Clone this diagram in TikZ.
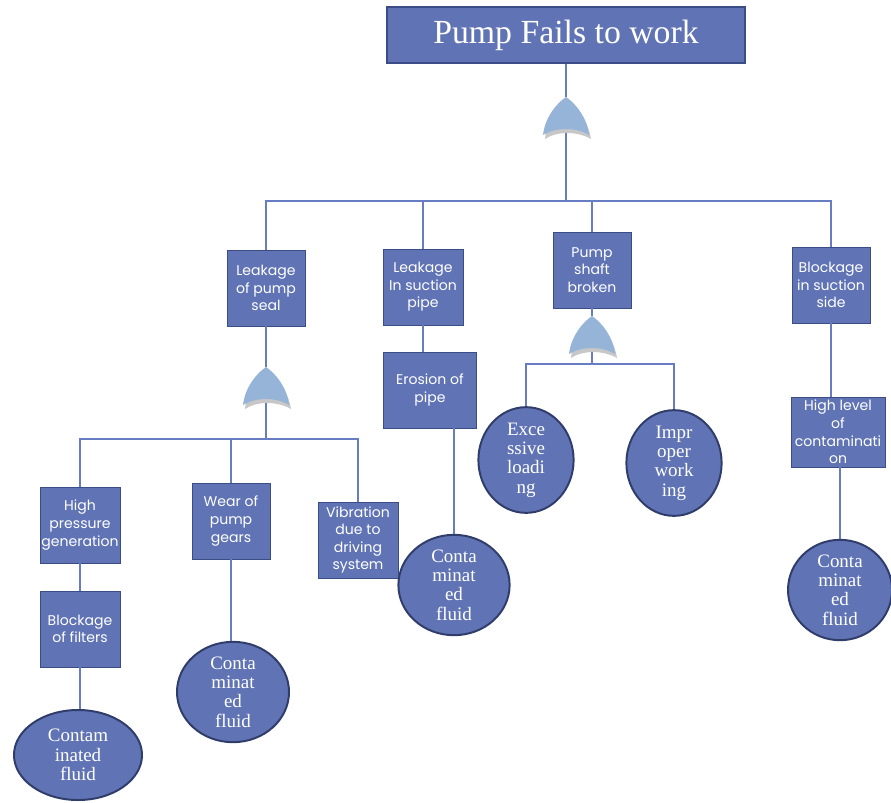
\documentclass[tikz,border=0pt]{standalone}
\usepackage{fontspec}
\setmainfont{Liberation Serif}
\newfontfamily\boxfont{Poppins}
\usetikzlibrary{shapes.geometric}

\definecolor{evfill}{RGB}{96,115,180}
\definecolor{evline}{RGB}{60,76,134}
\definecolor{conn}{RGB}{104,124,196}
\definecolor{gatefill}{RGB}{150,180,216}

% or gate, apex at #2, coordinates #1top and #1bot
\newcommand{\orgate}[2]{%
\begin{scope}[shift={#2}]
\fill[black!40,opacity=.55] (1,3) .. controls (10,9) and (22,23) .. (25,42) .. controls (11,34) and (-9,34) .. (-21,42) .. controls (-19,23) and (-8,9) .. cycle;
\fill[gatefill] (0,0) .. controls (9,6) and (21,20) .. (23,38) .. controls (10,30) and (-10,30) .. (-23,38) .. controls (-21,20) and (-9,6) .. cycle;
\coordinate (#1top) at (0,0);
\coordinate (#1bot) at (0,36);
\end{scope}}

\begin{document}
\begin{tikzpicture}[x=0.025cm,y=-0.025cm]
\tikzstyle{event}=[rectangle,fill=evfill,draw=evline,thin,text=white,align=center,
font=\boxfont\fontsize{10}{12.5}\selectfont,minimum width=1.95cm,minimum height=1.9cm,inner sep=0pt]
\tikzstyle{basic}=[ellipse,fill=evfill,draw=evline!80!black,line width=1.4pt,text=white,align=center,
font=\fontsize{13.5}{13.8}\selectfont,inner sep=0pt]
\tikzstyle{wire}=[draw=conn,line width=0.9pt]

\useasboundingbox (0,0) rectangle (891,802);

% top event
\node[event,minimum width=8.95cm,minimum height=1.4cm,line width=1pt,font=\fontsize{24}{28}\selectfont] (top) at (566,35) {Pump Fails to work};

% gates
\orgate{g1}{(566,97)}
\orgate{g2}{(266,367)}
\orgate{g3}{(592,316)}

% first level
\node[event] (e1) at (266,288) {Leakage\\of pump\\seal};
\node[event,minimum width=2cm] (e2) at (423,287) {Leakage\\In suction\\pipe};
\node[event] (e3) at (592,270) {Pump\\shaft\\broken};
\node[event] (e4) at (831,285) {Blockage\\in suction\\side};

% under leakage of pump seal
\node[event,minimum width=2cm] (hp) at (80,525) {High\\pressure\\generation};
\node[event,minimum width=2cm] (blk) at (80,629) {Blockage\\of filters};
\node[basic,minimum width=3.2cm,minimum height=2.25cm] (c1) at (78,755) {Contam\\inated\\fluid};
\node[event] (wear) at (231,521) {Wear of\\pump\\gears};
\node[basic,minimum width=2.8cm,minimum height=2.4cm] (c2) at (233,692) {Conta\\minat\\ed\\fluid};
\node[event,minimum width=2cm] (vib) at (358,540) {Vibration\\due to\\driving\\system};

% under leakage in suction pipe
\node[event,minimum width=2.33cm] (ero) at (430,390) {Erosion of\\pipe};
\node[basic,minimum width=2.78cm,minimum height=2.4cm] (c3) at (454,585) {Conta\\minat\\ed\\fluid};

% under pump shaft
\node[basic,minimum width=2.38cm,minimum height=2.03cm] (ex) at (526,460) {Exce\\ssive\\loadi\\ng};
\node[basic,minimum width=2.38cm,minimum height=2.03cm] (im) at (674,463) {Impr\\oper\\work\\ing};

% under blockage in suction side
\node[event,minimum width=2.35cm,minimum height=1.75cm] (hl) at (838,432) {High level\\of\\contaminati\\on};
\node[basic,minimum width=2.6cm,minimum height=2.4cm] (c4) at (840,590) {Conta\\minat\\ed\\fluid};

\coordinate (j1) at (566,201);
\coordinate (j2) at (266,439);
\coordinate (j3) at (592,364);

\draw[wire] (top) -- (g1top);
\draw[wire] (g1bot) -- (j1);
\draw[wire] (e1) |- (j1) -| (e4);
\draw[wire] (j1) -| (e2);
\draw[wire] (j1) -| (e3);

\draw[wire] (e1) -- (g2top);
\draw[wire] (g2bot) -- (j2);
\draw[wire] (hp) |- (j2) -| (vib);
\draw[wire] (j2) -| (wear);
\draw[wire] (hp) -- (blk);
\draw[wire] (blk) -- (blk |- c1.north);
\draw[wire] (wear) -- (wear |- c2.north);

\draw[wire] (e2) -- (e2 |- ero.north);
\draw[wire] (c3) -- (c3 |- ero.south);

\draw[wire] (e3) -- (g3top);
\draw[wire] (g3bot) -- (j3);
\draw[wire] (ex) |- (j3) -| (im);

\draw[wire] (e4) -- (e4 |- hl.north);
\draw[wire] (c4) -- (c4 |- hl.south);
\end{tikzpicture}
\end{document}
